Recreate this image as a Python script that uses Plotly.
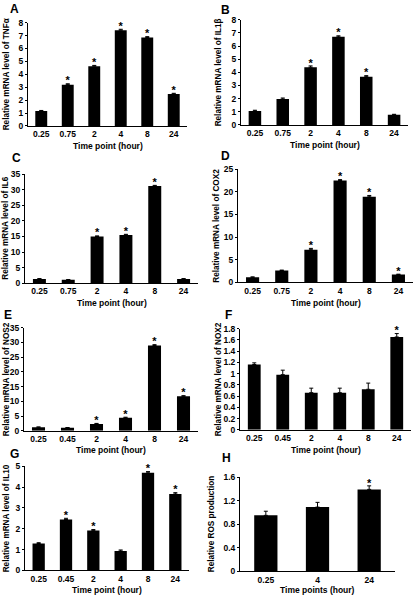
import plotly.graph_objects as go

# ---------------- data ----------------
times_a = ["0.25", "0.75", "2", "4", "8", "24"]
times_b = ["0.25", "0.45", "2", "4", "8", "24"]
times_h = ["0.25", "4", "24"]

tnfa = [1.15, 3.2, 4.63, 7.42, 6.85, 2.48]
tnfa_err = [0.05, 0.07, 0.06, 0.07, 0.07, 0.05]
tnfa_sig = [0, 1, 1, 1, 1, 1]

il1b = [1.07, 1.97, 4.39, 6.7, 3.67, 0.77]
il1b_err = [0.05, 0.08, 0.1, 0.08, 0.08, 0.04]
il1b_sig = [0, 0, 1, 1, 1, 0]

il6 = [1.4, 1.1, 15.0, 15.5, 31.2, 1.4]
il6_err = [0.1, 0.1, 0.2, 0.2, 0.2, 0.1]
il6_sig = [0, 0, 1, 1, 1, 0]

cox2 = [1.1, 2.6, 7.2, 22.5, 18.9, 1.7]
cox2_err = [0.1, 0.1, 0.3, 0.2, 0.3, 0.1]
cox2_sig = [0, 0, 1, 1, 1, 1]

nos2 = [1.2, 1.0, 2.3, 4.4, 28.9, 11.7]
nos2_err = [0.1, 0.1, 0.2, 0.2, 0.3, 0.2]
nos2_sig = [0, 0, 1, 1, 1, 1]

nox2 = [1.16, 0.98, 0.66, 0.66, 0.72, 1.65]
nox2_err = [0.03, 0.08, 0.08, 0.08, 0.11, 0.06]
nox2_sig = [0, 0, 0, 0, 0, 1]

il10 = [1.29, 2.44, 1.92, 0.93, 4.68, 3.67]
il10_err = [0.04, 0.06, 0.04, 0.05, 0.06, 0.06]
il10_sig = [0, 1, 1, 0, 1, 1]

ros = [0.95, 1.09, 1.39]
ros_err = [0.07, 0.08, 0.06]
ros_sig = [0, 0, 1]

ticks_a = [0, 1, 2, 3, 4, 5, 6, 7, 8]
ticks_c = [0, 5, 10, 15, 20, 25, 30, 35]
ticks_d = [0, 5, 10, 15, 20, 25]
ticks_f = [0, 0.2, 0.4, 0.6, 0.8, 1, 1.2, 1.4, 1.6, 1.8]
ticks_g = [0, 1, 2, 3, 4, 5]
ticks_h = [0, 0.4, 0.8, 1.2, 1.6]
ticktext_f = ["0", "0.2", "0.4", "0.6", "0.8", "1", "1.2", "1.4", "1.6", "1.8"]
ticktext_h = ["0", "0.4", "0.8", "1.2", "1.6"]

W, H = 416, 600
FONT = "Liberation Sans, Arial, sans-serif"

panels = [
    # letter, cats, vals, errs, sig, ytitle, xtitle, ticks, ticktext, ymax, box(x0,x1,ytop,ybot), ytitle_x, xtitle_y, letter_pos
    ("A", times_a, tnfa, tnfa_err, tnfa_sig, "Relative mRNA level of TNFα", "Time point (hour)",
     ticks_a, None, 8, (28, 187, 18, 123), 6, 143, (15, 4)),
    ("B", times_a, il1b, il1b_err, il1b_sig, "Relative mRNA level of IL1β", "Time point (hour)",
     ticks_a, None, 8, (241, 408, 15, 122), 218, 142, (226, 5)),
    ("C", times_a, il6, il6_err, il6_sig, "Relative mRNA level of IL6", "Time point (hour)",
     ticks_c, None, 35, (25, 198, 172, 283), 6, 303, (16, 156)),
    ("D", times_a, cox2, cox2_err, cox2_sig, "Relative mRNA level of COX2", "Time point (hour)",
     ticks_d, None, 25, (238, 413, 167, 282), 217, 303, (226, 154)),
    ("E", times_b, nos2, nos2_err, nos2_sig, "Relative mRNA level of NOS2", "Time point (hour)",
     ticks_c, None, 35, (24, 198, 328, 433), 6, 453, (8, 315)),
    ("F", times_b, nox2, nox2_err, nox2_sig, "Relative mRNA level of NOX2", "Time point (hour)",
     ticks_f, ticktext_f, 1.8, (240, 411, 329, 432), 218, 453, (228, 315)),
    ("G", times_b, il10, il10_err, il10_sig, "Relative mRNA level of IL10", "Time point (hour)",
     ticks_g, None, 5, (25, 189, 469, 575), 6, 595, (14, 457)),
    ("H", times_h, ros, ros_err, ros_sig, "Relative ROS production", "Time points (hour)",
     ticks_h, ticktext_h, 1.6, (240, 395, 480, 576), 211, 595, (227, 461)),
]

fig = go.Figure()
annotations = []
layout_axes = {}

for i, (letter, cats, vals, errs, sig, ytitle, xtitle, ticks, ticktext, ymax, box,
        ytx, xty, lpos) in enumerate(panels):
    n = i + 1
    xa = "x" if n == 1 else f"x{n}"
    ya = "y" if n == 1 else f"y{n}"
    x0, x1, yt, yb = box
    fig.add_trace(go.Bar(
        x=cats, y=vals, xaxis=xa, yaxis=ya,
        marker=dict(color="black", line=dict(width=0)),
        width=0.45,
        error_y=dict(type="data", array=errs, arrayminus=[0] * len(errs), symmetric=False,
                     color="black", thickness=1, width=2),
        showlegend=False, hoverinfo="skip",
    ))
    sx = [c for c, s in zip(cats, sig) if s]
    sy = [v + e + 0.02 * ymax for v, e, s in zip(vals, errs, sig) if s]
    fig.add_trace(go.Scatter(
        x=sx, y=sy, xaxis=xa, yaxis=ya, mode="text", text=["*"] * len(sx),
        textposition="middle center",
        textfont=dict(family=FONT, size=11, color="black", weight="bold"),
        showlegend=False, hoverinfo="skip", cliponaxis=False,
    ))
    xkey = "xaxis" if n == 1 else f"xaxis{n}"
    ykey = "yaxis" if n == 1 else f"yaxis{n}"
    layout_axes[xkey] = dict(
        domain=[x0 / W, x1 / W], anchor=ya, type="category",
        range=[-0.5, len(cats) - 0.5],
        showline=True, linecolor="black", linewidth=1, ticks="",
        showgrid=False, zeroline=False,
        tickfont=dict(family=FONT, size=8.5, color="black", weight="bold"),
        ticklabelstandoff=0,
    )
    yaxis = dict(
        domain=[1 - yb / H, 1 - yt / H], anchor=xa, range=[0, ymax],
        showline=True, linecolor="black", linewidth=1, ticks="outside", ticklen=2,
        tickcolor="black", tickwidth=1,
        showgrid=False, zeroline=False, tickmode="array", tickvals=ticks,
        tickfont=dict(family=FONT, size=8.5, color="black", weight="bold"),
        ticklabelstandoff=0,
    )
    if ticktext is not None:
        yaxis["ticktext"] = ticktext
    layout_axes[ykey] = yaxis

    annotations.append(dict(
        text=ytitle, xref="paper", yref="paper", x=ytx / W, y=1 - (yt + yb) / 2 / H,
        xanchor="center", yanchor="middle", textangle=-90, showarrow=False,
        font=dict(family=FONT, size=8.2, color="black", weight="bold"),
    ))
    annotations.append(dict(
        text=xtitle, xref="paper", yref="paper", x=(x0 + x1) / 2 / W, y=1 - xty / H,
        xanchor="center", yanchor="middle", showarrow=False,
        font=dict(family=FONT, size=8.5, color="black", weight="bold"),
    ))
    annotations.append(dict(
        text=letter, xref="paper", yref="paper", x=lpos[0] / W, y=1 - lpos[1] / H,
        xanchor="center", yanchor="middle", showarrow=False,
        font=dict(family=FONT, size=12, color="black", weight="bold"),
    ))

fig.update_layout(
    width=W, height=H, margin=dict(l=0, r=0, t=0, b=0),
    paper_bgcolor="white", plot_bgcolor="white",
    annotations=annotations, bargap=0.5,
    **layout_axes,
)

fig.write_html(
    "out.html",
    config={"displayModeBar": False, "staticPlot": True},
    post_script="document.body.style.margin='0';document.body.style.padding='0';"
                "document.body.style.overflow='hidden';",
)
